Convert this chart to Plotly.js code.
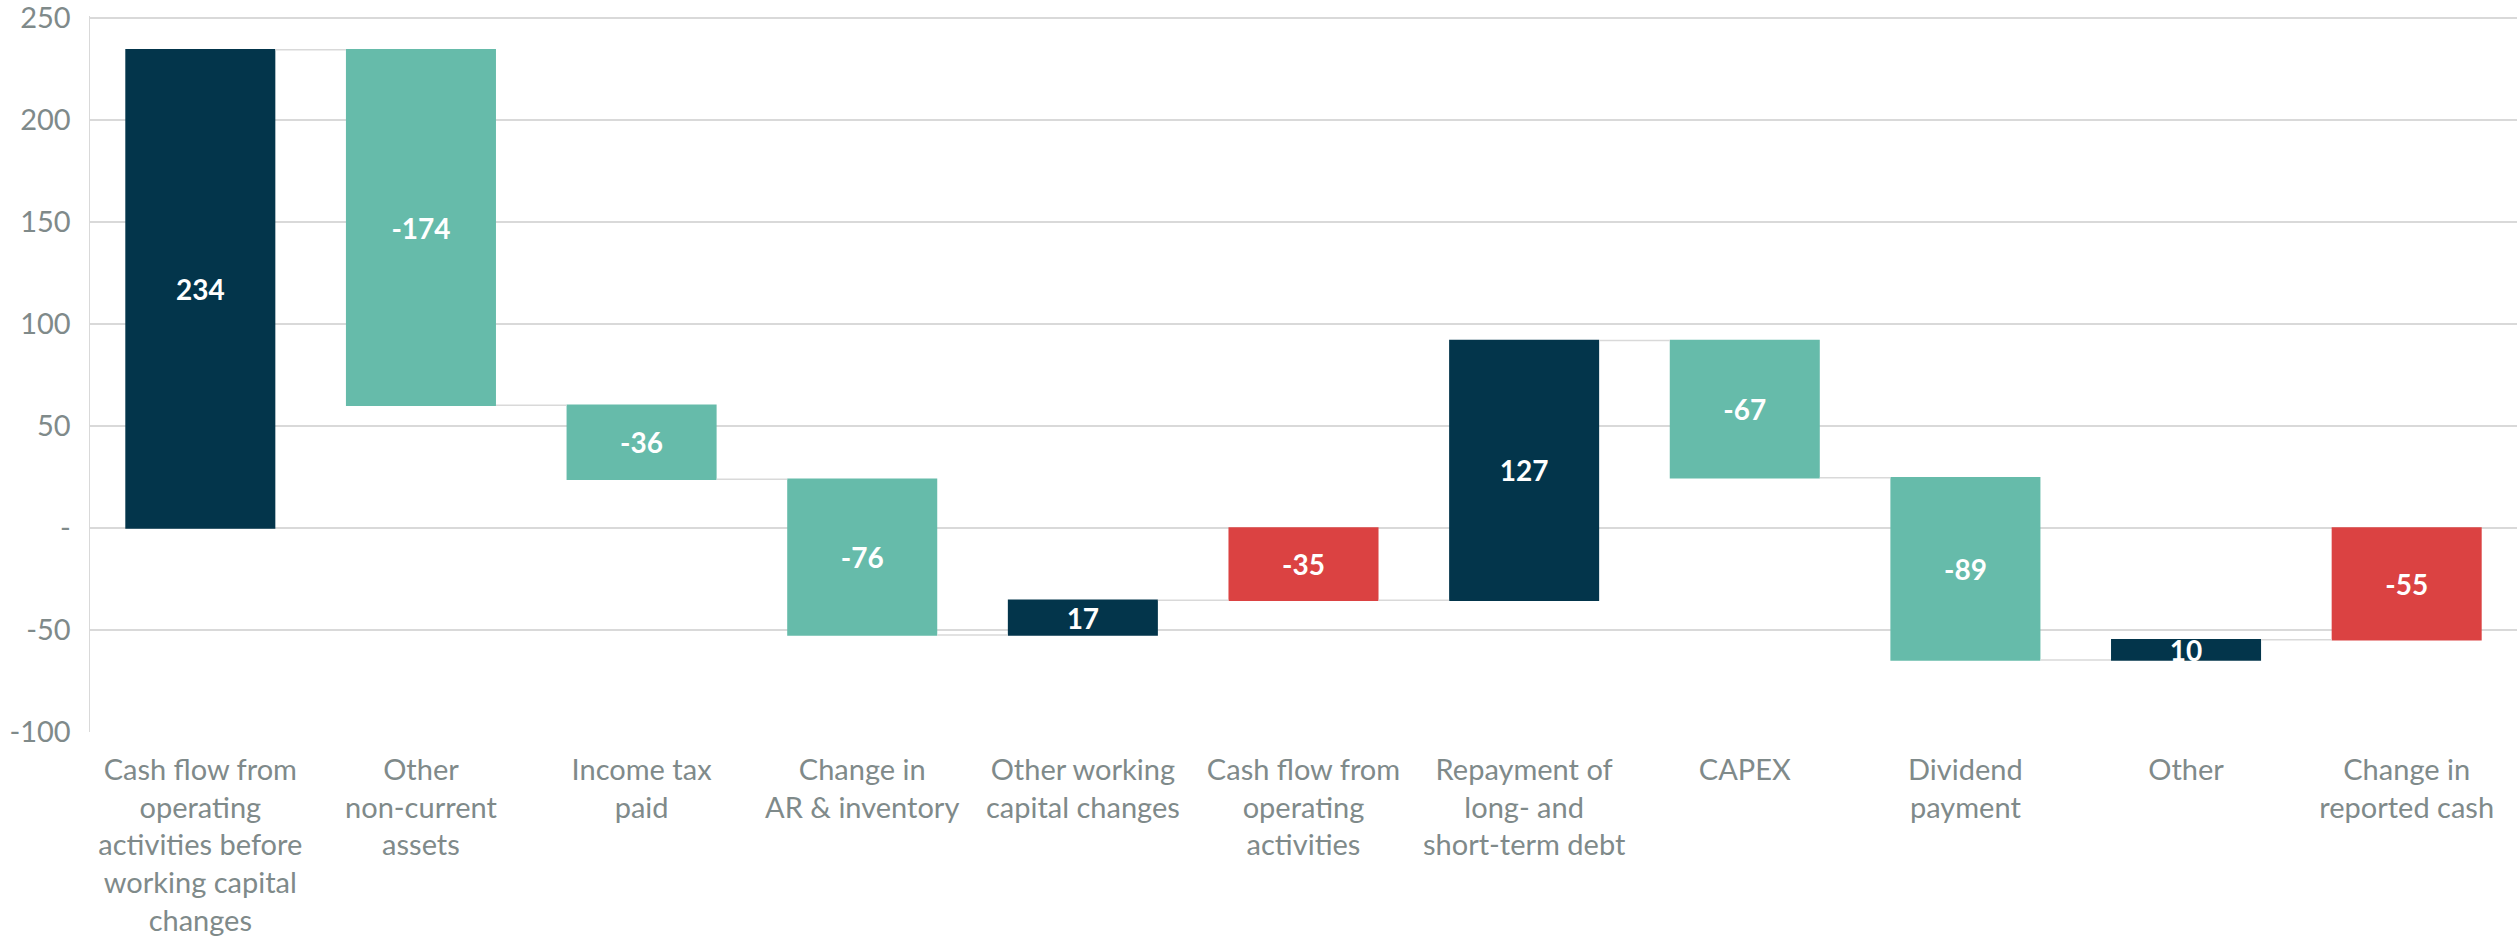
<!DOCTYPE html>
<html>
<head>
<meta charset="utf-8">
<script src="https://cdn.plot.ly/plotly-3.0.1.min.js"></script>
<style>
  html, body { margin: 0; padding: 0; background: #ffffff; }
  #chart { width: 2517px; height: 945px; }
</style>
</head>
<body>
<div id="chart"></div>
<script>
// Categories (x axis)
const categories = [
  "Cash flow from<br>operating<br>activities before<br>working capital<br>changes",
  "Other<br>non-current<br>assets",
  "Income tax<br>paid",
  "Change in<br>AR & inventory",
  "Other working<br>capital changes",
  "Cash flow from<br>operating<br>activities",
  "Repayment of<br>long- and<br>short-term debt",
  "CAPEX",
  "Dividend<br>payment",
  "Other",
  "Change in<br>reported cash"
];
// Step values (totals are computed by the waterfall)
const values = [234.4, -174.2, -36.3, -76.4, 17.1, 0, 127.3, -67.2, -89.4, 9.9, 0];
const measures = ["relative","relative","relative","relative","relative","total",
                  "relative","relative","relative","relative","total"];
// Data labels as printed on the bars
const barLabels = ["234","-174","-36","-76","17","-35","127","-67","-89","10","-55"];
// Y axis ticks
const yTickVals = [-100, -50, 0, 50, 100, 150, 200, 250];
const yTickText = ["-100", "-50", "-", "50", "100", "150", "200", "250"];

const trace = {
  type: "waterfall",
  x: categories,
  y: values,
  measure: measures,
  text: barLabels,
  textinfo: "text",
  textposition: "inside",
  insidetextanchor: "middle",
  textangle: 0,
  constraintext: "none",
  textfont: { family: "Lato, 'Open Sans', sans-serif", size: 28, color: "#ffffff", weight: 700 },
  increasing: { marker: { color: "#03354B" } },
  decreasing: { marker: { color: "#66BBAA" } },
  totals: { marker: { color: "#DB4242" } },
  connector: { mode: "between", line: { color: "#d9d9d9", width: 1.5 } },
  hoverinfo: "none",
  cliponaxis: false
};

const layout = {
  width: 2517,
  height: 945,
  margin: { l: 90, r: 0, t: 16, b: 213 },
  paper_bgcolor: "#ffffff",
  plot_bgcolor: "#ffffff",
  showlegend: false,
  waterfallgap: 0.32,
  font: { family: "Lato, 'Open Sans', sans-serif", size: 29, color: "#7f8a8a" },
  xaxis: {
    type: "category",
    showgrid: false,
    showline: false,
    zeroline: false,
    ticks: "",
    ticklabelstandoff: 18,
    tickfont: { size: 29, color: "#7f8a8a" },
    automargin: false
  },
  yaxis: {
    range: [-100, 251],
    tickvals: yTickVals,
    ticktext: yTickText,
    showgrid: true,
    gridcolor: "#d9d9d9",
    gridwidth: 1.5,
    zeroline: false,
    showline: true,
    linecolor: "#d9d9d9",
    linewidth: 1.5,
    ticks: "",
    ticklabelstandoff: 12,
    ticklabeloverflow: "allow",
    tickfont: { size: 29, color: "#7f8a8a" },
    automargin: false
  }
};

Plotly.newPlot("chart", [trace], layout, { displayModeBar: false, staticPlot: true });
</script>
</body>
</html>
